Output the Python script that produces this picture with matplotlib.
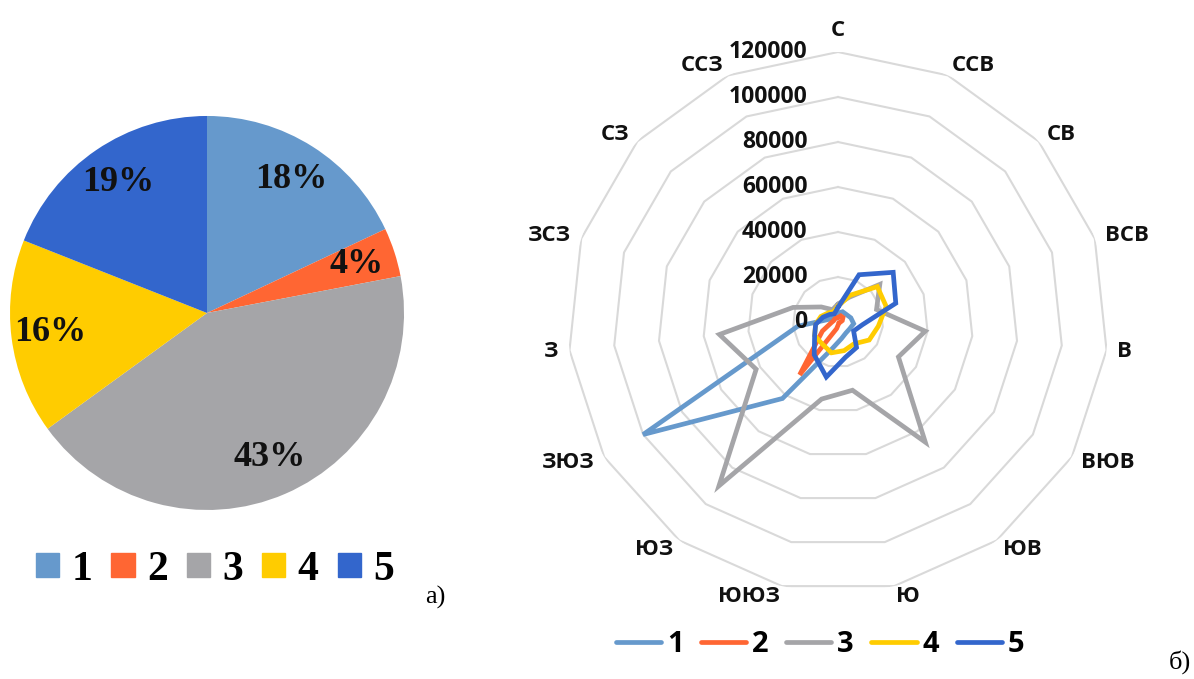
import numpy as np
import matplotlib
matplotlib.use('Agg')
import matplotlib.pyplot as plt
from matplotlib.patches import Patch

# pie shares, %
pie_labels = ['1', '2', '3', '4', '5']
pie_values = [18, 4, 43, 16, 19]
colors = ['#6699CC', '#FF6633', '#A5A5A8', '#FFCC00', '#3366CC']

# radar: 15 wind directions, clockwise from north
directions = ['С', 'ССВ', 'СВ', 'ВСВ', 'В', 'ВЮВ', 'ЮВ', 'Ю',
              'ЮЮЗ', 'ЮЗ', 'ЗЮЗ', 'З', 'ЗСЗ', 'СЗ', 'ССЗ']
s1 = [4000, 5000, 5000, 6000, 7000, 6000, 6000, 7500, 12000, 42000, 100000, 18000, 4000, 3000, 2000]
s2 = [2000, 3000, 3000, 2000, 1000, 500, 500, 1000, 3000, 29000, 8000, 3000, 2000, 2000, 2000]
s3 = [8000, 12000, 25000, 18000, 39000, 31000, 66000, 31000, 35000, 90000, 42000, 53000, 21000, 10000, 6000]
s4 = [7000, 13000, 23500, 22500, 18000, 16000, 12000, 13000, 14000, 12000, 12000, 10000, 8000, 6000, 5000]
s5 = [6500, 23000, 33000, 27000, 11000, 8000, 14000, 16000, 25000, 18000, 12000, 10000, 7000, 5000, 4000]
series = [s1, s2, s3, s4, s5]
rings = [20000, 40000, 60000, 80000, 100000, 120000]

sans = ['Open Sans', 'DejaVu Sans']
serif = ['Liberation Serif', 'DejaVu Serif']

fig = plt.figure(figsize=(11.94, 6.79), dpi=100)

# ---- a) pie
ax1 = fig.add_axes([0.00838, 0.2489, 0.330, 0.5803])
wedges, texts, autotexts = ax1.pie(pie_values, colors=colors, startangle=90, counterclock=False,
                                   autopct='%d%%', pctdistance=0.8, radius=1.0)
for t in autotexts:
    t.set_fontfamily(serif)
    t.set_fontweight('bold')
    t.set_fontsize(26)
    t.set_color('#111111')
ax1.set_xlim(-1, 1)
ax1.set_ylim(-1, 1)
ax1.set_aspect('equal')

fig.legend(handles=[Patch(color=c) for c in colors], labels=pie_labels, ncol=5,
           loc='center', bbox_to_anchor=(215 / 1194, 1 - 570 / 679), frameon=False,
           prop=dict(family=serif, weight='bold', size=30),
           handlelength=0.56, handleheight=0.52, handletextpad=0.3, columnspacing=0.45)
fig.text(435 / 1194, 1 - 597 / 679, 'а)', family=serif, fontsize=19, ha='center', va='center')

# ---- b) radar
ax2 = fig.add_axes([0.4757, 0.1281, 0.4523, 0.7953], projection='polar')
ax2.set_theta_zero_location('N')
ax2.set_theta_direction(-1)
angles = np.deg2rad(np.arange(len(directions)) * 360 / len(directions))
closed = np.append(angles, angles[0])

for v in rings:
    ax2.plot(closed, [v] * len(closed), color='#D9D9D9', lw=1.5, zorder=1)

lines = []
for vals, c in zip(series, colors):
    ln, = ax2.plot(closed, vals + vals[:1], color=c, lw=3.4, zorder=3,
                   solid_joinstyle='miter', solid_capstyle='round')
    lines.append(ln)

ax2.set_ylim(0, 120000)
ax2.set_xticks([])
ax2.set_yticks([])
ax2.grid(False)
ax2.spines['polar'].set_visible(False)
ax2.patch.set_visible(False)

for v in [0] + rings:
    ax2.annotate(str(v), xy=(0, v), xytext=(-22, 0), textcoords='offset points',
                 ha='right', va='center', family=sans, weight='bold', fontsize=16.5,
                 color='#111111', zorder=5)

for ang, name in zip(angles, directions):
    s = np.sin(ang)
    if s > 0.01:
        ha = 'left'
    elif s < -0.01:
        ha = 'right'
    else:
        ha = 'center'
    r = 1.04 * 120000
    va = 'center'
    if np.cos(ang) > 0.99:
        r = 1.08 * 120000
    ax2.text(ang, r, name, ha=ha, va=va, family=sans, weight='bold', fontsize=16,
             color='#111111')

fig.legend(handles=lines, labels=pie_labels, ncol=5, loc='center',
           bbox_to_anchor=(820 / 1194, 1 - 645 / 679), frameon=False,
           prop=dict(family=sans, weight='bold', size=21),
           handlelength=1.55, handletextpad=0.2, columnspacing=0.6)
fig.text(1180 / 1194, 1 - 662 / 679, 'б)', family=serif, fontsize=19, ha='center', va='center')

fig.savefig('out.png', dpi=100)
